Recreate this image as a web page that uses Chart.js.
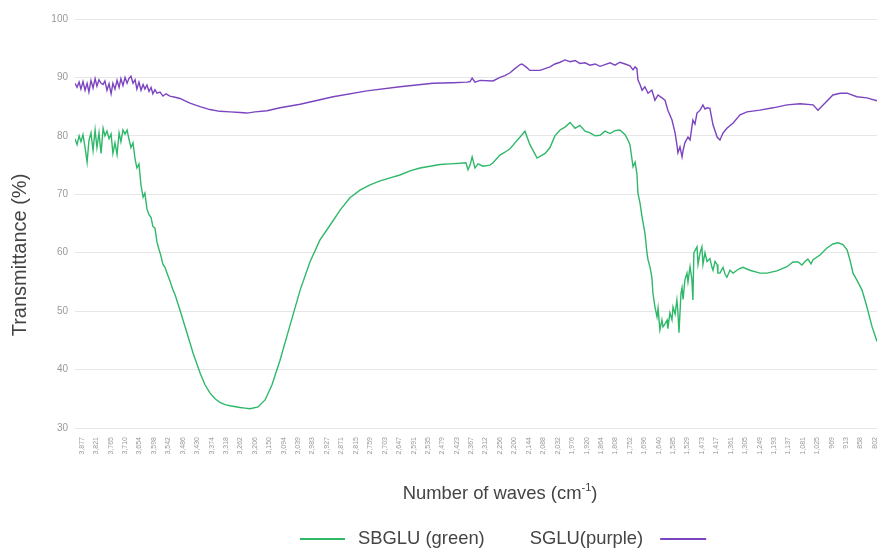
<!DOCTYPE html>
<html lang="en">
<head>
<meta charset="UTF-8">
<title>FTIR transmittance</title>
<script src="https://cdn.jsdelivr.net/npm/chart.js"></script>
<style>
  body { margin: 0; background: #fff; }
  .box { width: 877px; height: 548px; }
</style>
</head>
<body>
<div class="box"><canvas id="grafico"></canvas></div>
<script>
// x tick labels (cm-1) shown under the plot
const waveTicks = [3877, 3821, 3765, 3710, 3654, 3598, 3542, 3486, 3430, 3374, 3318, 3262, 3206, 3150, 3094, 3039,
  2983, 2927, 2871, 2815, 2759, 2703, 2647, 2591, 2535, 2479, 2423, 2367, 2312, 2256, 2200, 2144, 2088, 2032,
  1976, 1920, 1864, 1808, 1752, 1696, 1640, 1585, 1529, 1473, 1417, 1361, 1305, 1249, 1193, 1137, 1081, 1025,
  969, 913, 858, 802];
const yTicks = [30, 40, 50, 60, 70, 80, 90, 100];

// SBGLU (green)
const sbgluWave = [
  3904, 3896, 3888, 3881, 3873, 3865, 3857, 3850, 3842, 3834,
  3826, 3819, 3811, 3803, 3795, 3788, 3780, 3772, 3764, 3757,
  3749, 3741, 3733, 3726, 3718, 3710, 3702, 3695, 3687, 3679,
  3671, 3664, 3656, 3648, 3640, 3633, 3625, 3617, 3609, 3602,
  3594, 3586, 3578, 3571, 3563, 3555, 3547, 3536, 3524, 3516,
  3497, 3470, 3446, 3419, 3400, 3381, 3361, 3342, 3322, 3303,
  3264, 3245, 3225, 3194, 3167, 3140, 3109, 3070, 3031, 2993,
  2954, 2915, 2876, 2838, 2799, 2760, 2721, 2682, 2644, 2605,
  2566, 2527, 2489, 2450, 2411, 2388, 2380, 2372, 2364, 2353,
  2341, 2322, 2295, 2283, 2256, 2237, 2217, 2198, 2178, 2159,
  2140, 2112, 2081, 2062, 2043, 2023, 2004, 1984, 1965, 1946,
  1926, 1907, 1887, 1868, 1849, 1829, 1810, 1791, 1771, 1760,
  1752, 1740, 1732, 1725, 1721, 1713, 1705, 1694, 1686, 1682,
  1674, 1667, 1663, 1655, 1647, 1643, 1636, 1628, 1624, 1616,
  1608, 1605, 1597, 1589, 1585, 1577, 1570, 1566, 1562, 1554,
  1550, 1546, 1539, 1531, 1527, 1519, 1512, 1508, 1504, 1492,
  1488, 1480, 1473, 1469, 1461, 1453, 1442, 1434, 1430, 1422,
  1414, 1411, 1403, 1391, 1383, 1376, 1364, 1352, 1337, 1325,
  1314, 1287, 1248, 1221, 1182, 1143, 1120, 1100, 1085, 1073,
  1062, 1050, 1042, 1015, 988, 965, 945, 926, 910, 899,
  887, 872, 852, 833, 813, 794];
const sbgluT = [
  79.5, 78.5, 80.0, 79.0, 80.2, 78.0, 75.5, 79.2, 80.5, 77.5,
  81.0, 78.0, 80.5, 77.0, 81.3, 80.0, 80.8, 79.5, 80.3, 77.0,
  78.8, 76.8, 80.5, 79.0, 81.0, 80.3, 81.0, 79.5, 78.0, 78.8,
  76.0, 74.5, 75.2, 71.5, 69.5, 70.2, 67.5, 66.5, 66.0, 64.5,
  64.2, 61.8, 60.5, 59.5, 58.0, 57.5, 56.5, 55.2, 53.6, 52.8,
  50.2, 46.3, 42.8, 39.4, 37.4, 36.0, 35.0, 34.4, 34.0, 33.8,
  33.5, 33.4, 33.3, 33.6, 34.8, 37.4, 41.6, 47.6, 53.6, 58.4,
  62.2, 64.7, 67.3, 69.4, 70.7, 71.6, 72.3, 72.8, 73.3, 74.0,
  74.5, 74.8, 75.1, 75.2, 75.3, 75.4, 74.2, 75.0, 76.4, 74.5,
  75.2, 74.8, 75.0, 75.4, 76.7, 77.2, 77.8, 78.8, 79.8, 80.8,
  78.5, 76.2, 77.0, 78.0, 80.0, 81.0, 81.5, 82.3, 81.3, 81.8,
  80.8, 80.5, 80.0, 80.1, 80.8, 80.4, 80.9, 81.0, 80.2, 79.3,
  78.5, 74.7, 75.5, 73.5, 70.2, 68.5, 66.1, 63.4, 60.0, 58.8,
  57.5, 55.8, 53.1, 50.7, 49.0, 50.5, 46.8, 48.5, 47.3, 47.8,
  48.5, 47.0, 49.7, 48.5, 50.7, 49.5, 51.9, 49.8, 46.3, 53.1,
  54.0, 52.0, 55.3, 56.5, 55.0, 57.6, 55.5, 51.9, 60.0, 61.0,
  58.0, 60.0, 61.0, 58.0, 60.0, 58.5, 59.0, 57.5, 57.0, 58.5,
  58.0, 56.5, 56.5, 57.5, 56.3, 55.8, 57.0, 56.5, 57.0, 57.3,
  57.5, 57.0, 56.5, 56.5, 56.9, 57.6, 58.4, 58.4, 57.9, 58.5,
  58.9, 58.1, 58.8, 59.6, 60.8, 61.5, 61.7, 61.4, 60.5, 58.8,
  56.5, 55.3, 53.6, 50.7, 47.3, 44.8];

// SGLU (purple)
const sgluWave = [
  3904, 3896, 3888, 3881, 3873, 3865, 3857, 3850, 3842, 3834,
  3826, 3819, 3811, 3803, 3795, 3788, 3780, 3772, 3764, 3757,
  3749, 3741, 3733, 3726, 3718, 3710, 3702, 3695, 3687, 3679,
  3671, 3664, 3656, 3648, 3640, 3633, 3625, 3617, 3609, 3602,
  3594, 3586, 3574, 3563, 3551, 3536, 3516, 3497, 3477, 3458,
  3439, 3419, 3381, 3342, 3303, 3264, 3237, 3206, 3159, 3109,
  3031, 2903, 2772, 2644, 2516, 2438, 2384, 2372, 2364, 2353,
  2333, 2283, 2256, 2237, 2217, 2198, 2178, 2171, 2155, 2140,
  2101, 2062, 2043, 2023, 2004, 1984, 1965, 1946, 1926, 1907,
  1887, 1868, 1849, 1829, 1810, 1791, 1771, 1752, 1740, 1732,
  1725, 1721, 1713, 1705, 1694, 1682, 1667, 1655, 1643, 1628,
  1616, 1605, 1589, 1577, 1570, 1566, 1558, 1550, 1546, 1539,
  1527, 1519, 1508, 1500, 1492, 1480, 1469, 1461, 1453, 1442,
  1430, 1414, 1403, 1391, 1376, 1352, 1325, 1298, 1248, 1197,
  1143, 1092, 1042, 1023, 1003, 965, 937, 910, 872, 833,
  794];
const sgluT = [
  89.0, 88.3, 89.2, 88.0, 89.3, 87.8, 89.0, 87.5, 89.5, 88.2,
  89.8, 88.5, 89.6, 89.0, 88.8, 89.4, 87.8, 88.9, 87.2, 89.0,
  88.0, 89.5, 88.3, 89.8, 88.6, 90.0, 89.0, 89.8, 90.2, 89.0,
  89.6, 88.0, 89.2, 87.8, 88.8, 88.0, 88.7, 87.6, 88.3, 87.2,
  87.9, 87.3, 87.5, 86.8, 87.2, 86.8, 86.6, 86.4, 86.0, 85.6,
  85.3, 85.0, 84.5, 84.2, 84.1, 84.0, 83.9, 84.1, 84.3, 84.8,
  85.4, 86.7, 87.7, 88.4, 89.0, 89.1, 89.2, 89.3, 89.9, 89.2,
  89.5, 89.4, 90.0, 90.3, 90.8, 91.5, 92.2, 92.3, 91.8, 91.2,
  91.2, 91.8, 92.3, 92.6, 93.0, 92.7, 92.9, 92.4, 92.5, 92.1,
  92.3, 91.9, 92.2, 92.5, 92.1, 92.6, 92.3, 92.0, 91.3, 91.8,
  91.5, 89.6, 88.8, 87.8, 88.4, 87.3, 87.8, 86.1, 87.0, 86.5,
  86.1, 84.4, 82.7, 80.5, 78.5, 77.1, 78.1, 76.4, 77.5, 78.8,
  79.8, 79.3, 82.7, 82.0, 83.9, 84.4, 85.3, 84.6, 84.8, 84.7,
  81.9, 79.8, 79.3, 80.5, 81.3, 82.2, 83.6, 84.1, 84.4, 84.8,
  85.3, 85.5, 85.3, 84.4, 85.3, 87.0, 87.3, 87.3, 86.7, 86.5,
  86.0];

const verde = '#2fb86a';
const roxo = '#7c45c0';
const fonte = '"Liberation Sans", Arial, sans-serif';

// titles and legend drawn by hand so they sit where the original puts them
const textos = {
  id: 'textos',
  afterDraw(chart) {
    const ctx = chart.ctx;
    ctx.save();
    ctx.fillStyle = '#444';
    ctx.textBaseline = 'middle';

    // y title
    ctx.save();
    ctx.font = '20px ' + fonte;
    ctx.translate(20, 255);
    ctx.rotate(-Math.PI / 2);
    ctx.textAlign = 'center';
    ctx.fillText('Transmittance (%)', 0, 0);
    ctx.restore();

    // x title with superscript
    ctx.textAlign = 'left';
    const big = '18.4px ' + fonte, small = '11px ' + fonte;
    const p1 = 'Number of waves (cm', p2 = '-1', p3 = ')';
    ctx.font = big; const w1 = ctx.measureText(p1).width, w3 = ctx.measureText(p3).width;
    ctx.font = small; const w2 = ctx.measureText(p2).width;
    let x = 500 - (w1 + w2 + w3) / 2;
    const y = 494;
    ctx.font = big; ctx.fillText(p1, x, y); x += w1;
    ctx.font = small; ctx.fillText(p2, x, y - 6); x += w2;
    ctx.font = big; ctx.fillText(p3, x, y);

    // legend
    const ly = 539;
    ctx.font = big;
    const t1 = 'SBGLU (green)', t2 = 'SGLU(purple)';
    let lx = 300;
    ctx.lineWidth = 2;
    ctx.strokeStyle = verde;
    ctx.beginPath(); ctx.moveTo(lx, ly); ctx.lineTo(lx + 45, ly); ctx.stroke();
    lx += 58;
    ctx.fillText(t1, lx, ly);
    lx += ctx.measureText(t1).width + 45;
    ctx.fillText(t2, lx, ly);
    lx += ctx.measureText(t2).width + 17;
    ctx.strokeStyle = roxo;
    ctx.beginPath(); ctx.moveTo(lx, ly); ctx.lineTo(lx + 46, ly); ctx.stroke();

    ctx.restore();
  }
};

const pares = (xs, ys) => xs.map((v, i) => ({ x: v, y: ys[i] }));

new Chart(document.getElementById('grafico'), {
  type: 'line',
  data: {
    datasets: [{
      label: 'SBGLU (green)',
      data: pares(sbgluWave, sbgluT),
      borderColor: verde,
      borderWidth: 1.4,
      pointRadius: 0,
      fill: false
    }, {
      label: 'SGLU(purple)',
      data: pares(sgluWave, sgluT),
      borderColor: roxo,
      borderWidth: 1.4,
      pointRadius: 0,
      fill: false
    }]
  },
  options: {
    responsive: true,
    maintainAspectRatio: false,
    animation: false,
    layout: { padding: { top: 19, right: 0, bottom: 0, left: 0 } },
    plugins: { legend: { display: false }, tooltip: { enabled: false } },
    scales: {
      x: {
        type: 'linear',
        reverse: true,
        min: 794,
        max: 3904,
        afterBuildTicks: s => { s.ticks = waveTicks.map(v => ({ value: v })); },
        afterFit: s => { s.height = 120; s.paddingLeft = 0; s.paddingRight = 0; },
        grid: { display: false, drawTicks: false },
        border: { display: false },
        ticks: {
          autoSkip: false,
          maxRotation: 90,
          minRotation: 90,
          padding: 9,
          color: '#999',
          font: { size: 7, family: fonte },
          callback: v => v.toLocaleString('en-US')
        }
      },
      y: {
        min: 30,
        max: 100,
        afterBuildTicks: s => { s.ticks = yTicks.map(v => ({ value: v })); },
        afterFit: s => { s.width = 75; },
        grid: { color: '#e6e6e6', drawTicks: false },
        border: { display: false },
        ticks: {
          padding: 7,
          color: '#999',
          font: { size: 10, family: fonte }
        }
      }
    }
  },
  plugins: [textos]
});
</script>
</body>
</html>
